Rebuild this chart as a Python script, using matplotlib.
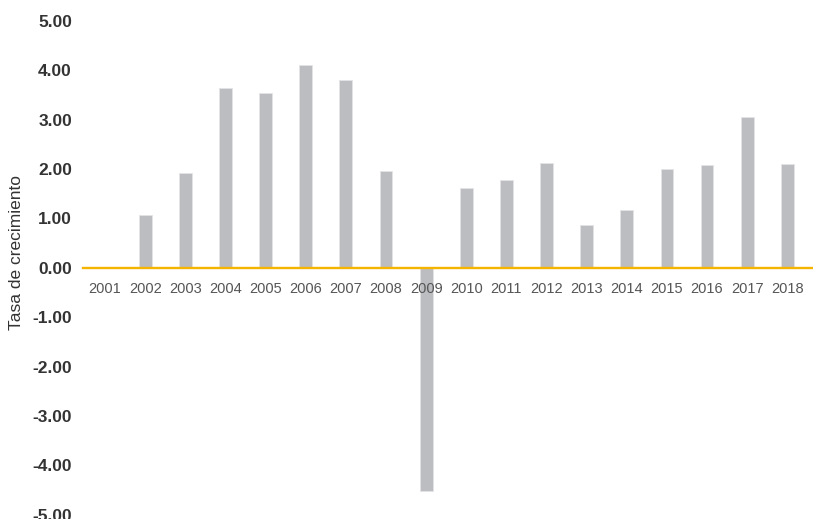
import matplotlib
matplotlib.use("Agg")
import matplotlib.pyplot as plt
import numpy as np

# growth rate per year
years = [str(y) for y in range(2001, 2019)]
tasa = [0.0, 1.06, 1.91, 3.64, 3.53, 4.10, 3.81, 1.96, -4.52,
        1.61, 1.78, 2.13, 0.86, 1.17, 1.99, 2.08, 3.05, 2.09]
yticks = np.arange(-5, 6, 1)

bar_color = "#bcbdc1"
zero_color = "#f5b400"
text_color = "#333333"

fig = plt.figure(figsize=(8.13, 5.19), dpi=100)
ax = fig.add_axes([0.1021, 0.0083, 0.8979, 0.9517])

x = np.arange(len(years))
ax.bar(x, tasa, width=0.32, color=bar_color, edgecolor="#e4e4e6", linewidth=0.6, zorder=1)

ax.set_xlim(-0.55, len(years) - 1 + 0.64)
ax.set_ylim(-5, 5)

for side in ["top", "right", "left"]:
    ax.spines[side].set_visible(False)
ax.spines["bottom"].set_position(("data", 0))
ax.spines["bottom"].set_color(zero_color)
ax.spines["bottom"].set_linewidth(1.7)
ax.spines["bottom"].set_zorder(3)

ax.set_xticks(x)
ax.set_xticklabels(years, fontfamily="Liberation Sans", fontsize=10.5, color="#555555")
ax.tick_params(axis="x", length=0, pad=10)

ax.set_yticks(yticks)
ax.set_yticklabels([f"{v:.2f}" for v in yticks], fontfamily="Liberation Sans",
                   fontweight="bold", fontsize=12.5, color=text_color)
ax.tick_params(axis="y", length=0, pad=8)

fig.text(0.0197, 0.514, "Tasa de crecimiento", rotation=90, ha="center", va="center",
         fontfamily="Liberation Sans", fontsize=12.5, color=text_color)

fig.savefig("out.png", dpi=100)
